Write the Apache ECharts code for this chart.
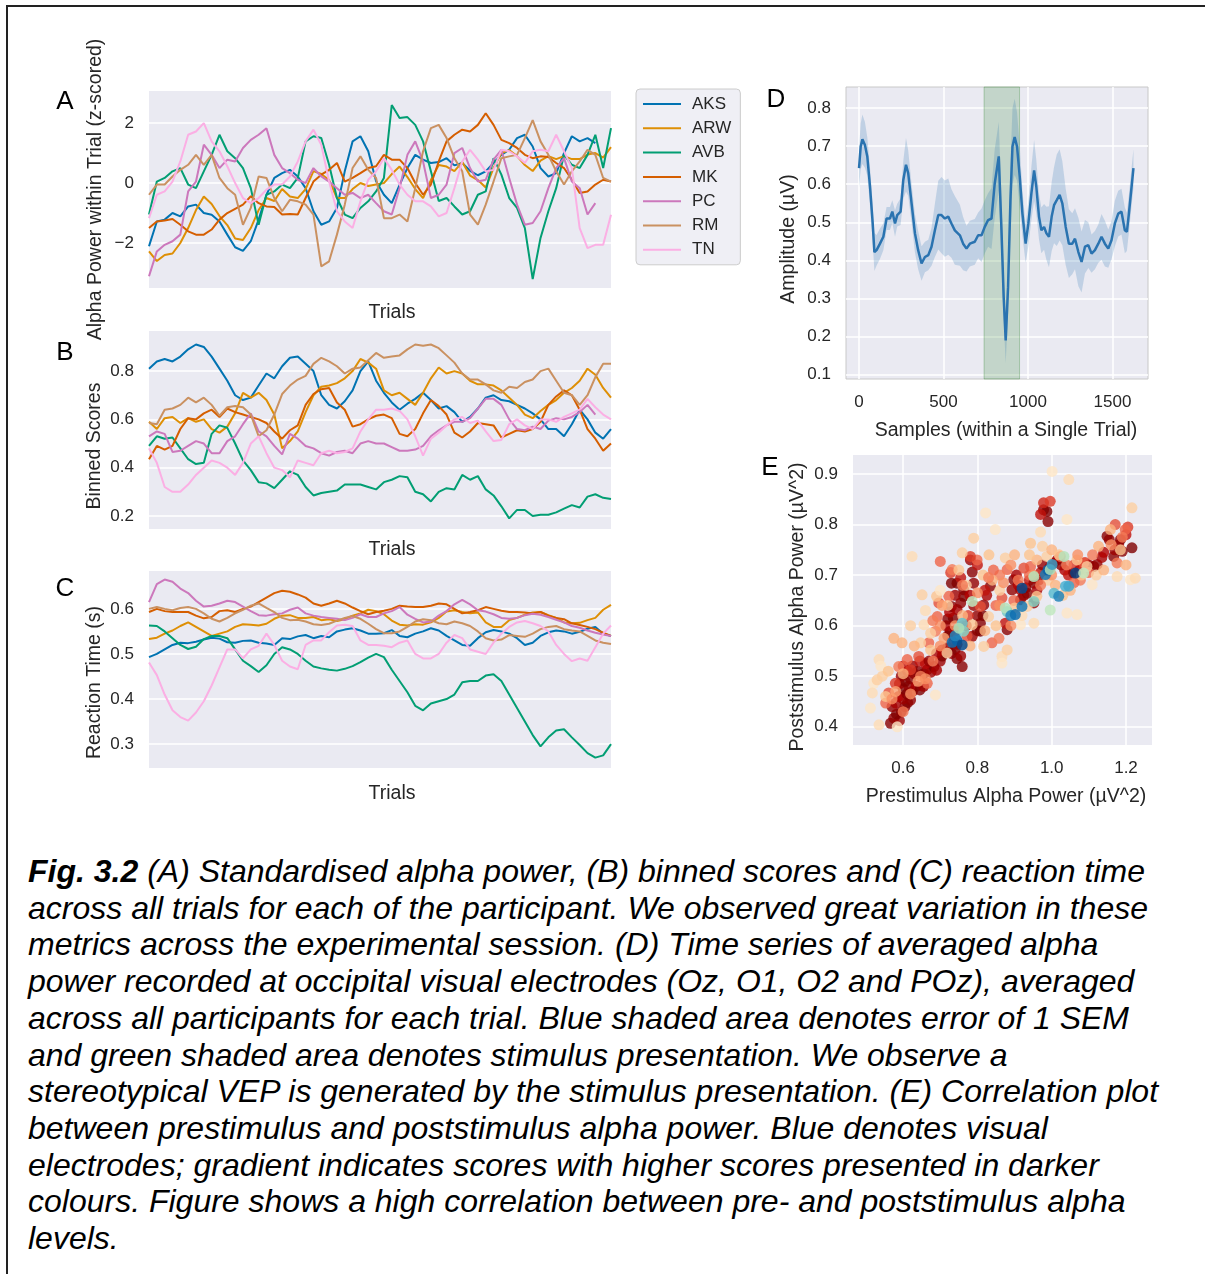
<!DOCTYPE html>
<html>
<head>
<meta charset="UTF-8">
<title>Fig. 3.2</title>
<script src="https://cdn.jsdelivr.net/npm/echarts@6/dist/echarts.min.js"></script>
<style>
  html, body { margin: 0; padding: 0; background: #fff; }
  body { width: 1205px; height: 1274px; position: relative; overflow: hidden; font-family: 'Liberation Sans', Arial, sans-serif; }
  #frame { position: absolute; left: 6px; top: 5px; width: 1199px; height: 1269px; border-top: 2px solid #222; border-left: 2px solid #222; }
  #chart { position: absolute; left: 0; top: 0; width: 1205px; height: 830px; }
  #caption { position: absolute; left: 28px; top: 853px; font-size: 32px; line-height: 36.7px; font-style: italic; color: #000; white-space: nowrap; }
</style>
</head>
<body>
<div id="frame"></div>
<div id="chart"></div>
<div id="caption"><b>Fig. 3.2</b> (A) Standardised alpha power, (B) binned scores and (C) reaction time<br>across all trials for each of the participant. We observed great variation in these<br>metrics across the experimental session. (D) Time series of averaged alpha<br>power recorded at occipital visual electrodes (Oz, O1, O2 and POz), averaged<br>across all participants for each trial. Blue shaded area denotes error of 1 SEM<br>and green shaded area denotes stimulus presentation. We observe a<br>stereotypical VEP is generated by the stimulus presentation. (E) Correlation plot<br>between prestimulus and poststimulus alpha power. Blue denotes visual<br>electrodes; gradient indicates scores with higher scores presented in darker<br>colours. Figure shows a high correlation between pre- and poststimulus alpha<br>levels.</div>
<script type="text/javascript">
// participants and colours (seaborn colorblind)
var names = ['AKS', 'ARW', 'AVB', 'MK', 'PC', 'RM', 'TN'];
var colors = ['#0173b2', '#de8f05', '#029e73', '#d55e00', '#cc78bc', '#ca9161', '#fbafe4'];

// (A) alpha power, z-scored
var aksA = [-2.11,-1.28,-1.22,-1.0,-1.11,-0.78,-0.72,-1.0,-1.06,-1.28,-1.72,-2.14,-2.26,-1.94,-1.22,-0.39,0.17,0.33,0.44,0.22,-0.17,-0.94,-1.39,-1.28,-0.83,0.39,1.39,1.56,1.06,0.06,-0.39,-0.67,-0.06,0.5,0.94,0.78,0.67,0.7,0.83,0.59,0.67,0.41,0.26,0.39,0.67,0.94,1.11,1.5,1.61,1.22,0.5,0.22,0.33,1.0,1.56,1.39,1.5,1.33,null,null];
var arwA = [-2.28,-2.6,-2.4,-2.35,-2.0,-1.5,-0.9,-0.45,-0.7,-1.1,-1.4,-1.85,-1.9,-1.5,-0.9,-0.5,-0.6,-0.2,-0.45,-0.5,-0.2,0.4,0.3,0.1,-0.5,-0.5,-0.2,0.0,-0.1,-0.05,0.0,0.3,0.55,0.2,-0.2,-0.5,0.1,0.6,0.55,0.4,0.7,0.25,0.1,-0.15,0.5,1.0,1.1,0.9,0.6,0.4,0.75,0.9,0.8,0.9,0.8,0.8,0.95,1.0,0.85,1.2];
var avbA = [-1.05,0.05,0.17,0.39,0.5,-0.05,-0.17,0.39,0.94,1.61,1.06,0.83,0.5,-0.17,-1.39,-0.39,-0.28,-0.05,-0.17,0.17,1.39,1.56,1.5,0.61,-0.5,-1.05,-1.17,-0.83,-0.61,-0.28,0.17,2.6,2.17,2.2,1.94,1.39,0.39,-0.6,-0.5,-0.78,-1.05,-0.94,-0.39,-0.28,0.83,0.28,-0.5,-0.83,-1.5,-3.2,-1.83,-0.94,-0.17,0.94,0.61,0.5,0.94,1.61,0.5,1.83];
var mkA = [-1.5,-1.28,-1.25,-1.2,-1.39,-1.61,-1.72,-1.72,-1.55,-1.22,-1.0,-0.86,-0.72,-0.44,-0.67,-0.78,-0.8,-1.05,-1.03,-1.05,-0.5,0.05,0.28,0.44,0.67,0.05,0.17,0.33,0.5,0.56,0.94,0.78,0.78,0.5,0.0,-0.39,-0.05,0.72,1.39,1.61,1.78,1.72,1.94,2.33,1.94,1.44,1.33,1.17,0.94,0.83,0.89,0.87,0.67,0.5,0.11,-0.33,-0.28,-0.05,0.11,0.05];
var pcA = [-3.11,-2.28,-2.06,-1.94,-1.72,-0.28,0.05,1.28,0.94,0.5,0.78,0.72,1.17,1.44,1.61,1.83,0.94,0.5,0.33,0.11,0.0,0.5,0.22,0.05,-0.17,-0.39,-0.33,-0.5,-0.39,-0.67,-0.94,-1.05,-0.17,0.94,1.39,0.72,-0.5,-0.39,-0.05,1.0,1.17,0.5,0.05,0.11,0.78,1.11,0.17,-0.72,-1.39,-1.33,-0.94,-0.17,0.5,0.83,0.05,-0.17,-1.05,-0.67,null,null];
var rmA = [-0.39,-0.05,-0.05,0.22,0.44,0.61,0.94,0.61,0.94,0.17,-0.17,-0.39,-1.39,-0.83,0.22,0.17,-0.5,-0.94,-0.56,-0.61,-0.72,-1.05,-2.78,-2.61,-1.72,-0.72,0.5,0.89,0.44,0.17,-1.17,-1.17,-1.05,-1.28,-0.17,1.06,1.83,1.94,1.5,0.83,0.39,-1.05,-1.39,-0.72,0.05,0.83,0.89,0.94,1.5,2.1,1.39,0.94,0.39,-0.05,0.39,0.72,1.11,0.94,0.17,0.05];
var tnA = [-1.17,-0.39,-0.28,0.05,0.72,1.61,1.72,2.0,1.39,1.06,0.56,0.0,-0.5,-0.67,-0.5,-0.22,-0.05,-0.05,0.22,0.72,1.39,1.78,1.28,0.05,-0.94,-1.28,-1.5,-0.61,0.11,0.39,0.83,0.44,-0.05,-0.39,-0.61,-0.61,-0.78,-1.11,-1.0,-0.17,0.72,1.11,0.78,0.39,0.44,1.11,1.06,0.89,0.67,1.06,1.11,1.06,1.61,1.06,0.5,-1.5,-2.17,-2.06,-2.06,-1.06];

// (B) binned scores
var aksB = [0.81,0.84,0.85,0.84,0.86,0.89,0.91,0.90,0.86,0.81,0.76,0.70,0.68,0.69,0.74,0.79,0.77,0.82,0.855,0.86,0.83,0.80,0.70,0.66,0.645,0.675,0.72,0.80,0.84,0.76,0.71,0.67,0.64,0.665,0.685,0.71,0.68,0.645,0.655,0.63,0.59,0.61,0.645,0.69,0.70,0.68,0.675,0.66,0.645,0.625,0.60,0.56,0.56,0.53,0.58,0.64,0.60,0.545,0.52,0.56];
var arwB = [0.59,0.56,0.605,0.61,0.585,0.605,0.59,0.6,0.56,0.545,0.57,0.625,0.71,0.69,0.71,0.68,0.62,0.48,0.51,0.55,0.63,0.70,0.735,0.74,0.75,0.77,0.80,0.85,0.835,0.81,0.72,0.70,0.71,0.685,0.66,0.71,0.77,0.815,0.79,0.80,0.79,0.76,0.745,0.745,0.74,0.72,0.69,0.66,0.62,0.605,0.635,0.66,0.68,0.71,0.73,0.76,0.81,0.785,0.73,0.69];
var avbB = [0.49,0.53,0.52,0.525,0.48,0.435,0.415,0.42,0.54,0.575,0.565,0.5,0.43,0.39,0.34,0.335,0.315,0.35,0.385,0.37,0.32,0.285,0.295,0.30,0.305,0.33,0.33,0.33,0.32,0.31,0.34,0.35,0.365,0.36,0.30,0.29,0.26,0.30,0.315,0.31,0.37,0.35,0.365,0.31,0.285,0.24,0.19,0.225,0.225,0.20,0.205,0.205,0.215,0.23,0.245,0.235,0.28,0.29,0.275,0.27];
var mkB = [0.435,0.49,0.475,0.49,0.56,0.605,0.60,0.625,0.64,0.61,0.645,0.63,0.62,0.61,0.60,0.585,0.55,0.52,0.555,0.575,0.66,0.705,0.725,0.73,0.67,0.64,0.57,0.58,0.60,0.615,0.62,0.605,0.54,0.53,0.56,0.625,0.68,0.655,0.62,0.545,0.525,0.55,0.585,0.58,0.575,0.525,0.54,0.555,0.55,0.56,0.59,0.66,0.695,0.72,0.70,0.64,0.56,0.52,0.47,0.50];
var pcB = [0.53,0.55,0.54,0.465,0.47,0.49,0.51,0.50,0.46,0.46,0.51,0.53,0.58,0.625,0.55,0.53,0.49,0.455,0.54,0.52,0.49,0.48,0.46,0.45,0.465,0.47,0.46,0.50,0.51,0.50,0.50,0.485,0.47,0.47,0.475,0.49,0.53,0.555,0.575,0.59,0.59,0.605,0.645,0.685,0.685,0.66,0.60,0.56,0.555,0.57,0.56,0.595,0.605,0.60,0.61,0.63,0.66,0.62,null,null];
var rmB = [0.585,0.58,0.64,0.645,0.66,0.69,0.67,0.69,0.66,0.615,0.65,0.655,0.65,0.62,0.53,0.555,0.62,0.705,0.74,0.765,0.78,0.83,0.855,0.84,0.82,0.79,0.81,0.815,0.845,0.875,0.855,0.86,0.865,0.89,0.91,0.905,0.91,0.895,0.865,0.835,0.79,0.765,0.765,0.745,0.72,0.71,0.735,0.73,0.755,0.765,0.80,0.81,0.76,0.71,0.70,0.66,0.70,0.775,0.83,0.83];
var tnB = [0.48,0.42,0.32,0.30,0.30,0.33,0.37,0.40,0.43,0.42,0.40,0.37,0.42,0.50,0.53,0.46,0.40,0.39,0.36,0.43,0.42,0.41,0.46,0.47,0.46,0.465,0.48,0.55,0.60,0.64,0.64,0.645,0.635,0.60,0.53,0.45,0.52,0.545,0.575,0.60,0.61,0.585,0.595,0.55,0.51,0.515,0.58,0.60,0.575,0.56,0.60,0.60,0.59,0.61,0.625,0.64,0.685,0.65,0.62,0.60];

// (C) reaction time (s)
var aksC = [0.493,0.50,0.51,0.52,0.525,0.524,0.527,0.532,0.536,0.534,0.526,0.525,0.529,0.53,0.525,0.523,0.52,0.535,0.533,0.539,0.542,0.535,0.54,0.537,0.55,0.554,0.557,0.552,0.545,0.545,0.546,0.553,0.54,0.537,0.545,0.55,0.557,0.552,0.54,0.53,0.52,0.518,0.535,0.548,0.553,0.55,0.545,0.535,0.52,0.525,0.54,0.548,0.552,0.55,0.545,0.549,0.556,0.56,0.545,0.54];
var arwC = [0.533,0.536,0.545,0.552,0.562,0.57,0.56,0.55,0.54,0.545,0.55,0.56,0.566,0.565,0.563,0.567,0.578,0.585,0.586,0.58,0.58,0.582,0.575,0.577,0.573,0.577,0.585,0.59,0.598,0.595,0.588,0.574,0.565,0.563,0.566,0.565,0.57,0.58,0.594,0.597,0.593,0.59,0.592,0.57,0.56,0.56,0.575,0.58,0.587,0.592,0.593,0.586,0.58,0.57,0.568,0.569,0.575,0.58,0.598,0.609];
var avbC = [0.563,0.562,0.55,0.535,0.52,0.511,0.516,0.533,0.54,0.54,0.535,0.51,0.485,0.473,0.46,0.475,0.5,0.515,0.51,0.5,0.485,0.472,0.468,0.465,0.463,0.467,0.473,0.482,0.492,0.5,0.493,0.465,0.44,0.415,0.385,0.375,0.39,0.395,0.4,0.41,0.437,0.44,0.44,0.452,0.455,0.44,0.41,0.38,0.35,0.32,0.295,0.315,0.33,0.333,0.315,0.298,0.28,0.27,0.275,0.3];
var mkC = [0.593,0.6,0.595,0.593,0.593,0.593,0.585,0.579,0.582,0.595,0.597,0.593,0.6,0.605,0.615,0.625,0.635,0.64,0.638,0.632,0.625,0.612,0.607,0.612,0.618,0.612,0.603,0.595,0.588,0.593,0.596,0.6,0.607,0.605,0.604,0.604,0.607,0.612,0.61,0.6,0.59,0.593,0.597,0.604,0.6,0.596,0.593,0.593,0.592,0.59,0.593,0.585,0.58,0.577,0.568,0.564,0.56,0.555,0.547,0.54];
var pcC = [0.615,0.655,0.665,0.66,0.645,0.635,0.618,0.605,0.607,0.612,0.618,0.615,0.605,0.595,0.586,0.585,0.588,0.59,0.598,0.603,0.59,0.585,0.582,0.58,0.578,0.575,0.58,0.588,0.582,0.582,0.59,0.595,0.604,0.587,0.578,0.57,0.572,0.585,0.595,0.61,0.62,0.61,0.597,0.594,0.588,0.58,0.578,0.58,0.586,0.589,0.587,0.582,0.576,0.57,0.562,0.558,0.552,0.547,0.543,0.54];
var rmC = [0.6,0.604,0.6,0.597,0.602,0.604,0.6,0.59,0.578,0.572,0.58,0.59,0.598,0.607,0.612,0.602,0.593,0.58,0.575,0.576,0.572,0.566,0.564,0.567,0.574,0.58,0.584,0.578,0.567,0.555,0.546,0.546,0.55,0.56,0.572,0.577,0.575,0.568,0.566,0.572,0.568,0.562,0.55,0.535,0.53,0.532,0.542,0.54,0.538,0.545,0.555,0.56,0.562,0.555,0.552,0.55,0.54,0.53,0.525,0.522];
var tnC = [0.481,0.453,0.41,0.375,0.36,0.352,0.37,0.395,0.43,0.47,0.51,0.51,0.49,0.51,0.518,0.545,0.52,0.485,0.472,0.466,0.52,0.53,0.53,0.548,0.563,0.565,0.562,0.53,0.52,0.52,0.518,0.515,0.525,0.53,0.5,0.49,0.49,0.5,0.525,0.542,0.535,0.51,0.505,0.5,0.525,0.545,0.56,0.57,0.573,0.568,0.562,0.55,0.52,0.5,0.484,0.49,0.485,0.515,0.545,0.563];

// (D) averaged alpha amplitude within a single trial
var samples = [0,10,20,35,49,65,81,91,104,124,144,163,183,197,213,226,246,262,278,291,311,331,350,370,390,410,429,449,469,488,508,528,547,567,597,616,636,656,685,705,725,744,764,784,803,827,843,856,868,882,896,908,921,935,951,967,986,1002,1020,1036,1049,1065,1079,1095,1109,1124,1140,1154,1170,1187,1203,1223,1242,1262,1278,1298,1317,1337,1357,1376,1396,1416,1435,1455,1475,1494,1514,1534,1553,1573,1585,1597,1611,1624];
var amplitude = [0.642,0.699,0.718,0.703,0.673,0.594,0.497,0.422,0.427,0.444,0.462,0.51,0.51,0.528,0.497,0.519,0.528,0.611,0.651,0.629,0.55,0.471,0.427,0.392,0.409,0.414,0.436,0.479,0.519,0.519,0.51,0.515,0.497,0.479,0.466,0.444,0.431,0.444,0.449,0.466,0.466,0.488,0.506,0.51,0.602,0.673,0.479,0.304,0.19,0.33,0.558,0.699,0.724,0.699,0.62,0.523,0.444,0.497,0.576,0.636,0.594,0.515,0.479,0.488,0.471,0.462,0.515,0.545,0.558,0.572,0.55,0.488,0.444,0.444,0.457,0.422,0.396,0.436,0.44,0.418,0.427,0.444,0.462,0.444,0.431,0.453,0.497,0.523,0.528,0.479,0.475,0.523,0.585,0.642];
var sem = [0.05,0.06,0.065,0.06,0.05,0.05,0.05,0.05,0.04,0.04,0.035,0.03,0.03,0.03,0.035,0.03,0.035,0.05,0.07,0.06,0.05,0.05,0.05,0.045,0.04,0.04,0.05,0.07,0.09,0.1,0.1,0.1,0.09,0.09,0.08,0.07,0.06,0.06,0.06,0.06,0.07,0.07,0.07,0.08,0.09,0.09,0.08,0.06,0.06,0.07,0.09,0.1,0.1,0.09,0.08,0.06,0.05,0.06,0.07,0.08,0.07,0.06,0.06,0.06,0.07,0.08,0.09,0.1,0.12,0.12,0.11,0.1,0.09,0.08,0.08,0.09,0.08,0.07,0.06,0.05,0.05,0.05,0.06,0.06,0.05,0.05,0.06,0.06,0.06,0.06,0.05,0.05,0.05,0.05];
var stimulus = [740, 950];

// (E) prestimulus vs poststimulus alpha power: [pre, post, score]
var scorePts = [
  [0.566,0.407,0.95],[0.575,0.417,0.9],[0.59,0.412,0.85],[0.582,0.425,1.0],[0.595,0.43,0.95],[0.57,0.44,0.9],[0.58,0.447,0.8],[0.605,0.44,0.9],[0.612,0.448,1.0],[0.6,0.455,0.85],
  [0.62,0.453,0.9],[0.588,0.46,0.75],[0.61,0.465,0.95],[0.625,0.47,0.85],[0.6,0.475,1.0],[0.615,0.48,0.9],[0.59,0.485,0.85],[0.605,0.49,1.0],[0.62,0.495,0.95],[0.595,0.5,0.9],
  [0.635,0.48,0.8],[0.645,0.473,1.0],[0.655,0.48,0.85],[0.63,0.505,0.9],[0.612,0.51,0.8],[0.6,0.52,0.7],[0.625,0.52,0.85],[0.64,0.51,0.95],[0.655,0.505,1.0],[0.665,0.513,0.9],
  [0.675,0.508,0.85],[0.683,0.519,1.0],[0.69,0.512,0.8],[0.66,0.525,0.75],[0.645,0.53,0.7],[0.67,0.53,0.9],[0.7,0.53,0.85],[0.705,0.54,1.0],[0.69,0.545,0.8],[0.715,0.548,0.95],
  [0.72,0.557,0.9],[0.705,0.552,0.75],[0.73,0.545,0.85],[0.74,0.553,1.0],[0.745,0.563,0.9],[0.73,0.57,0.8],[0.745,0.535,0.95],[0.759,0.519,0.95],[0.755,0.54,0.85],[0.72,0.58,0.95],
  [0.727,0.589,1.0],[0.74,0.59,0.85],[0.715,0.6,0.8],[0.72,0.613,0.95],[0.735,0.615,1.0],[0.725,0.627,0.75],[0.73,0.638,0.95],[0.745,0.632,0.8],[0.755,0.645,0.9],[0.763,0.658,1.0],
  [0.763,0.671,0.95],[0.74,0.66,0.85],[0.73,0.684,1.0],[0.745,0.684,1.0],[0.755,0.695,0.7],[0.728,0.705,0.6],
  [0.781,0.73,0.85],[0.79,0.684,0.9],[0.786,0.706,0.95],[0.8,0.72,0.7],[0.78,0.66,0.75],[0.79,0.64,0.85],[0.8,0.62,0.9],[0.808,0.605,0.95],[0.815,0.62,1.0],[0.817,0.641,0.9],
  [0.825,0.66,0.8],[0.835,0.678,0.95],[0.82,0.67,0.7],[0.786,0.579,0.85],[0.8,0.59,0.95],[0.808,0.589,1.0],[0.77,0.6,0.8],[0.775,0.62,0.6],[0.88,0.592,0.95],[0.875,0.605,0.7],
  [0.893,0.671,0.9],[0.898,0.691,0.95],[0.905,0.7,0.8],[0.91,0.68,0.75],[0.916,0.651,0.95],[0.925,0.66,0.85],[0.93,0.675,0.9],[0.916,0.671,0.8],[0.934,0.664,0.95],[0.94,0.69,0.7],
  [0.952,0.684,0.95],[0.952,0.645,0.9],[0.96,0.67,0.8],[0.965,0.69,0.85],[0.97,0.705,0.7],[0.975,0.72,0.9],[0.985,0.7,0.6],[0.995,0.715,0.85],[1.005,0.724,0.9],[1.015,0.73,0.8],
  [1.025,0.72,0.95],[1.035,0.71,0.75],[1.045,0.7,0.7],[1.059,0.704,0.95],[1.06,0.72,0.6],[1.075,0.71,0.75],[1.09,0.725,0.6],[1.1,0.72,0.85],[1.113,0.717,0.95],[1.122,0.721,0.9],
  [1.135,0.735,0.8],[1.14,0.745,0.75],[1.149,0.777,0.95],[1.155,0.77,0.9],[1.167,0.737,0.95],[1.17,0.75,0.85],[1.18,0.76,0.8],[1.185,0.77,0.95],[1.19,0.747,0.95],[1.2,0.78,0.7],
  [1.216,0.754,1.0],[1.205,0.795,0.6],
  [0.978,0.829,0.9],[0.987,0.826,1.0],[0.99,0.806,0.95],[0.978,0.843,0.65],[0.996,0.846,0.6],[0.97,0.82,0.7],
  [0.866,0.655,0.55],[0.85,0.64,0.5],[0.808,0.638,0.55],[0.799,0.73,0.5],[0.781,0.737,0.6],[0.7,0.727,0.5],[0.732,0.711,0.45],[0.723,0.658,0.5],[0.696,0.645,0.55],[0.692,0.618,0.5],
  [0.687,0.589,0.45],[0.669,0.566,0.5],[0.642,0.539,0.55],[0.62,0.513,0.6],[0.611,0.533,0.5],[0.588,0.519,0.45],[0.579,0.486,0.6],[0.561,0.467,0.55],[0.553,0.447,0.5],[0.647,0.5,0.45],
  [0.665,0.486,0.5],[0.772,0.579,0.55],[0.839,0.566,0.5],[0.858,0.575,0.45],[0.898,0.65,0.5],[0.94,0.7,0.5],[1.023,0.737,0.5],[1.086,0.724,0.55],[1.171,0.8,0.55],[1.198,0.79,0.5],
  [1.176,0.724,0.45],[1.099,0.705,0.5],[1.077,0.69,0.45],[0.943,0.717,0.5],[0.925,0.714,0.55],[0.88,0.711,0.5],[0.86,0.7,0.45],[0.843,0.71,0.5],[1.06,0.685,0.5],
  [1.001,0.905,0.1],[1.046,0.889,0.15],[0.822,0.823,0.1],[0.848,0.79,0.1],[0.79,0.773,0.2],[0.624,0.737,0.15],[0.759,0.744,0.2],[0.831,0.74,0.25],[0.875,0.734,0.2],[0.943,0.763,0.25],
  [0.97,0.785,0.15],[0.975,0.757,0.2],[1.041,0.81,0.1],[1.216,0.833,0.2],[1.176,0.697,0.15],[1.212,0.691,0.1],[1.225,0.694,0.15],[1.109,0.681,0.1],[1.041,0.625,0.1],[1.068,0.622,0.1],
  [0.952,0.605,0.15],[0.916,0.602,0.1],[0.866,0.539,0.15],[0.866,0.526,0.1],[0.817,0.559,0.2],[0.687,0.463,0.1],[0.656,0.602,0.15],[0.651,0.661,0.2],[0.69,0.658,0.25],[0.575,0.575,0.3],
  [0.597,0.566,0.3],[0.535,0.533,0.15],[0.521,0.486,0.1],[0.517,0.467,0.15],[0.512,0.437,0.1],[0.535,0.404,0.15],[0.584,0.4,0.1],[0.647,0.566,0.2],[0.674,0.552,0.25],[0.718,0.546,0.2],
  [0.786,0.602,0.25],[0.83,0.618,0.2],[0.88,0.552,0.2],[0.934,0.638,0.2],[0.96,0.658,0.25],[0.987,0.737,0.2],[1.068,0.73,0.25],[1.095,0.717,0.2],[1.126,0.757,0.3],[1.158,0.79,0.3],
  [1.185,0.75,0.25],[0.674,0.585,0.2],[0.544,0.5,0.2],[0.553,0.46,0.25],[0.53,0.493,0.2],[0.54,0.52,0.1],[0.56,0.51,0.25],[0.6,0.505,0.3],[0.63,0.56,0.3],[0.62,0.6,0.2],
  [0.66,0.63,0.15],[0.7,0.67,0.1],[0.72,0.64,0.2],[0.76,0.62,0.3],[0.75,0.71,0.25],[0.77,0.68,0.2],[0.815,0.7,0.25],[0.84,0.69,0.3],[0.86,0.67,0.2],[0.9,0.635,0.25],
  [0.92,0.62,0.15],[0.99,0.69,0.2],[1.01,0.68,0.3],[1.03,0.66,0.25],[1.05,0.67,0.3],[1.08,0.7,0.25],[1.12,0.7,0.2],[1.14,0.71,0.3],[1.2,0.72,0.3],[0.85,0.6,0.25],
  [0.82,0.59,0.3],[0.78,0.56,0.3],[0.9,0.74,0.3],[0.96,0.73,0.3],[0.94,0.74,0.25],[1.0,0.75,0.3],[1.02,0.74,0.25],
  [0.57,0.455,0.4],[0.58,0.47,0.35],[0.6,0.43,0.45],[0.62,0.465,0.4],[0.64,0.49,0.35],[0.66,0.495,0.4],[0.68,0.53,0.45],[0.7,0.56,0.4],[0.71,0.575,0.35],[0.74,0.6,0.4],
  [0.76,0.6,0.45],[0.7,0.6,0.4],[0.68,0.61,0.45],[0.705,0.64,0.35],[0.76,0.68,0.45],[0.8,0.665,0.4],[0.83,0.695,0.45],[0.87,0.685,0.4],[0.89,0.72,0.4],[0.91,0.69,0.45],
  [0.95,0.7,0.4],[0.97,0.68,0.45],[1.0,0.7,0.4],[1.04,0.72,0.45],[1.07,0.74,0.4],[1.11,0.74,0.45],[1.16,0.76,0.4],[1.19,0.775,0.45],[0.89,0.6,0.4],[0.86,0.64,0.4]
];
var visualPts = [
  [0.732,0.567,0.8],[0.745,0.571,0.85],[0.759,0.562,0.95],[0.74,0.58,0.7],[0.759,0.605,0.4],[0.763,0.589,0.3],[0.75,0.595,0.15],[0.786,0.648,0.05],[0.88,0.628,0.35],[0.875,0.635,0.1],
  [0.89,0.62,0.7],[0.902,0.622,0.8],[0.92,0.638,0.75],[0.92,0.674,0.95],[0.952,0.648,0.3],[0.952,0.697,0.1],[0.983,0.701,0.75],[0.99,0.71,0.85],[0.996,0.711,0.15],[1.001,0.721,0.6],
  [1.006,0.664,0.45],[1.019,0.658,0.7],[1.033,0.737,0.1],[1.037,0.678,0.5],[1.046,0.678,0.55],[1.064,0.704,1.0],[1.086,0.704,0.05],[0.996,0.631,0.05]
];

// tick labels
var ticksA = [-2, 0, 2];
var ticksB = [0.2, 0.4, 0.6, 0.8];
var ticksC = [0.3, 0.4, 0.5, 0.6];
var ticksDx = [0, 500, 1000, 1500];
var ticksDy = [0.1, 0.2, 0.3, 0.4, 0.5, 0.6, 0.7, 0.8];
var ticksEx = [0.6, 0.8, 1.0, 1.2];
var ticksEy = [0.4, 0.5, 0.6, 0.7, 0.8, 0.9];

var FONT = "'Liberation Sans', Arial, sans-serif";
var INK = '#262626';
var trials = [];
for (var t = 0; t < aksA.length; t++) trials.push(t + 1);

function pairs(xs, ys) {
  return xs.map(function (x, i) { return [x, ys[i]]; });
}

// pad shifts a name along its own axis (px, positive = towards larger values)
function valueAxis(grid, min, max, ticks, fmt, name, gap, pad) {
  return {
    type: 'value', gridIndex: grid, min: min, max: max,
    axisLine: { show: false },
    axisTick: { show: false, customValues: ticks },
    axisLabel: { customValues: ticks, formatter: fmt, margin: 15, fontSize: 17, color: INK, fontFamily: FONT },
    splitLine: { show: true, lineStyle: { color: '#ffffff', width: 1.5 } },
    name: name, nameLocation: 'middle', nameGap: gap,
    nameTextStyle: { fontSize: 19.5, color: INK, fontFamily: FONT, padding: pad || 0 }
  };
}

function trialAxis(grid, gap) {
  return {
    type: 'category', gridIndex: grid, data: trials, boundaryGap: false,
    axisLine: { show: false }, axisTick: { show: false }, axisLabel: { show: false },
    splitLine: { show: false },
    name: 'Trials', nameLocation: 'middle', nameGap: gap,
    nameTextStyle: { fontSize: 19.5, color: INK, fontFamily: FONT, padding: [0, 0, 0, 24] }
  };
}

var fmt1 = function (v) { return v.toFixed(1); };
var fmtA = function (v) { return v < 0 ? '\u2212' + Math.abs(v) : String(v); };
var fmtInt = function (v) { return String(v); };

var panels = [
  [aksA, arwA, avbA, mkA, pcA, rmA, tnA],
  [aksB, arwB, avbB, mkB, pcB, rmB, tnB],
  [aksC, arwC, avbC, mkC, pcC, rmC, tnC]
];

var series = [];
panels.forEach(function (sets, g) {
  sets.forEach(function (vals, k) {
    series.push({
      name: names[k], type: 'line', xAxisIndex: g, yAxisIndex: g,
      data: vals, symbol: 'none', showSymbol: false, connectNulls: false,
      lineStyle: { color: colors[k], width: 2 }, itemStyle: { color: colors[k] }
    });
  });
});

// SEM band as one polygon
var upper = amplitude.map(function (v, i) { return v + sem[i]; });
var lower = amplitude.map(function (v, i) { return v - sem[i]; });
series.push({
  name: 'sem', type: 'custom', xAxisIndex: 3, yAxisIndex: 3, clip: true, silent: true,
  data: samples.map(function (s, i) { return [s, lower[i], upper[i]]; }),
  encode: { x: 0, y: [1, 2] },
  renderItem: function (params, api) {
    if (params.dataIndex !== 0) return null;
    var pts = [], i;
    for (i = 0; i < samples.length; i++) pts.push(api.coord([samples[i], upper[i]]));
    for (i = samples.length - 1; i >= 0; i--) pts.push(api.coord([samples[i], lower[i]]));
    return { type: 'polygon', shape: { points: pts }, style: { fill: 'rgba(44,117,179,0.22)' } };
  }
});
series.push({
  name: 'amplitude', type: 'line', xAxisIndex: 3, yAxisIndex: 3,
  data: pairs(samples, amplitude), symbol: 'none',
  lineStyle: { color: '#2a73b0', width: 2.5 },
  markArea: {
    silent: true,
    itemStyle: { color: 'rgba(60,140,60,0.22)', borderColor: 'rgba(60,140,60,0.35)', borderWidth: 1 },
    data: [[{ xAxis: stimulus[0] }, { xAxis: stimulus[1] }]]
  }
});
series.push({
  name: 'scores', type: 'scatter', xAxisIndex: 4, yAxisIndex: 4,
  data: scorePts, symbolSize: 11, itemStyle: { opacity: 0.8 }
});
series.push({
  name: 'visual', type: 'scatter', xAxisIndex: 4, yAxisIndex: 4,
  data: visualPts, symbolSize: 11, itemStyle: { opacity: 0.85 }
});

var gridBase = { show: true, backgroundColor: '#eaeaf2', borderWidth: 0, containLabel: false, outerBoundsMode: 'none' };
function grid(l, t, w, h, extra) {
  return Object.assign({}, gridBase, { left: l, top: t, width: w, height: h }, extra || {});
}

function letter(txt, x, y) {
  return { type: 'text', x: x, y: y, style: { text: txt, font: '26px ' + FONT, fill: '#000', align: 'center', verticalAlign: 'middle' } };
}

var myChart = echarts.init(document.getElementById('chart'), null, { renderer: 'canvas' });
var option = {
  animation: false,
  backgroundColor: 'transparent',
  textStyle: { fontFamily: FONT },
  grid: [
    grid(149, 91, 462, 197),
    grid(149, 331, 462, 198),
    grid(149, 571, 462, 197),
    grid(846, 87, 302, 292, { borderWidth: 1, borderColor: '#c8c8c8' }),
    grid(853, 455, 299, 290)
  ],
  xAxis: [
    trialAxis(0, 15), trialAxis(1, 11), trialAxis(2, 16),
    valueAxis(3, -77, 1710, ticksDx, fmtInt, 'Samples (within a Single Trial)', 42, [0, 0, 0, 18]),
    valueAxis(4, 0.465, 1.27, ticksEx, fmt1, 'Prestimulus Alpha Power (\u00b5V^2)', 42, [0, 0, 0, 7])
  ],
  yAxis: [
    valueAxis(0, -3.5, 3.07, ticksA, fmtA, 'Alpha Power within Trial (z-scored)', 43),
    valueAxis(1, 0.146, 0.966, ticksB, fmt1, 'Binned Scores', 44, [0, 32, 0, 0]),
    valueAxis(2, 0.247, 0.684, ticksC, fmt1, 'Reaction Time (s)', 44, [0, 26, 0, 0]),
    valueAxis(3, 0.089, 0.855, ticksDy, fmt1, 'Amplitude (\u00b5V)', 47, [0, 12, 0, 0]),
    valueAxis(4, 0.364, 0.9375, ticksEy, fmt1, 'Poststimulus Alpha Power (\u00b5V^2)', 45, [0, 14, 0, 0])
  ],
  legend: {
    data: names, orient: 'vertical', left: 636, top: 89,
    itemWidth: 38, itemHeight: 14, itemGap: 7.3, padding: [6.5, 9, 6.5, 6],
    itemStyle: { opacity: 0 },
    backgroundColor: 'rgba(238,238,244,0.95)', borderColor: '#cccccc', borderWidth: 1, borderRadius: 4,
    textStyle: { fontSize: 17, color: INK, fontFamily: FONT, padding: [0, 0, 0, 6] }
  },
  visualMap: [
    { type: 'continuous', show: false, seriesIndex: 23, dimension: 2, min: 0, max: 1,
      inRange: { color: ['#fff5e6', '#fee2bd', '#fdc48e', '#fc9b6a', '#ef6548', '#d7301f', '#b30000', '#990000', '#7f0000'] } },
    { type: 'continuous', show: false, seriesIndex: 24, dimension: 2, min: 0, max: 1,
      inRange: { color: ['#ccebc5', '#a8ddb5', '#7bccc4', '#4eb3d3', '#2b8cbe', '#0868ac', '#084081'] } }
  ],
  graphic: [
    letter('A', 65, 102), letter('B', 65, 353), letter('C', 65, 589),
    letter('D', 776, 100), letter('E', 770, 468)
  ],
  series: series
};
myChart.setOption(option);
</script>
</body>
</html>
